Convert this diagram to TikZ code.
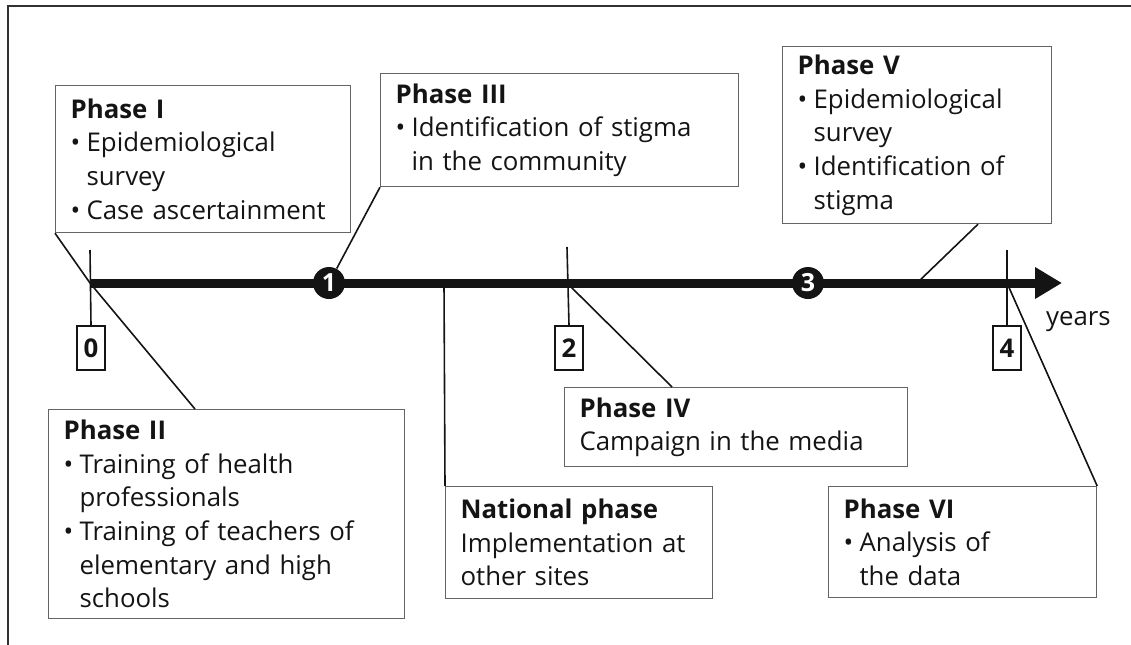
\documentclass[tikz,border=0pt]{standalone}
\usepackage{fontspec}
\usepackage{xcolor}
\setmainfont{Open Sans}
\usetikzlibrary{positioning,calc,arrows.meta}
\definecolor{ink}{RGB}{20, 20, 20}
\definecolor{edge}{RGB}{100, 100, 100}
\definecolor{frame}{RGB}{50, 50, 50}
\tikzstyle{phase} = [
    rectangle,
    anchor=north west,
    align=left,
    draw=edge,
    line width=0.6pt,
    inner xsep=7.5pt,
    inner ysep=0pt,
    text=ink,
    font=\fontsize{12.9}{16.8}\selectfont
]
\tikzstyle{yearbox} = [
    rectangle,
    anchor=north,
    draw=ink,
    line width=0.9pt,
    minimum width=14pt,
    minimum height=22pt,
    inner sep=0pt,
    text=ink,
    font=\bfseries\fontsize{12.9}{15}\selectfont
]
\tikzstyle{milestone} = [
    circle,
    fill=ink,
    minimum size=16pt,
    inner sep=0pt,
    text=white,
    font=\bfseries\fontsize{12.5}{14}\selectfont
]
\tikzstyle{link} = [
    draw=ink,
    line width=0.8pt
]
\newcommand{\bl}{\makebox[8pt][l]{\textbullet}}
\newcommand{\ind}{\hspace*{8pt}}

\begin{document}
\begin{tikzpicture}[x=0.5pt, y=-0.5pt]
    \useasboundingbox (0,0) rectangle (1131,644);
    \draw[frame, line width=1pt] (1140,6) -- (8,6) -- (8,660);

    \coordinate (k0) at (90,283);
    \coordinate (k2) at (567,283);
    \coordinate (k4) at (1007,283);
    \coordinate (tip) at (1062,283);
    \coordinate (nat) at (444,283);
    \coordinate (p5foot) at (917,283);

    \node[yearbox] (y0) at (91,325) {0};
    \node[yearbox] (y2) at (569,325) {2};
    \node[yearbox] (y4) at (1007,325) {4};
    \draw[link] ($(k0)+(0,-33)$) -- (y0.north);
    \draw[link] ($(k2)+(0,-36)$) -- (y2.north);
    \draw[link] ($(k4)+(0,-33)$) -- (y4.north);

    \draw[ink, line width=4.5pt, -{Triangle[width=15pt,length=13.5pt]}] (k0) -- (tip);
    \node[milestone] (m1) at (329,283) {1};
    \node[milestone] (m3) at (808,283) {3};
    \node[anchor=base west, text=ink, font=\fontsize{12.9}{15}\selectfont] (yrs) at (1039,325) {years};

    \node[phase, text width=132.5pt, minimum height=73.5pt] (p1) at (55,85)
        {\textbf{Phase I}\\\bl Epidemiological\\\ind survey\\\bl Case ascertainment};
    \node[phase, text width=164pt, minimum height=56.5pt] (p3) at (380,73)
        {\textbf{Phase III}\\\bl Identification of stigma\\\ind in the community};
    \node[phase, text width=119.5pt, minimum height=88.5pt] (p5) at (782,46)
        {\textbf{Phase V}\\\bl Epidemiological\\\ind survey\\\bl Identification of\\\ind stigma};
    \node[phase, text width=163pt, minimum height=104.5pt] (p2) at (48,409)
        {\textbf{Phase II}\\\bl Training of health\\\ind professionals\\\bl Training of teachers of\\\ind elementary and high\\\ind schools};
    \node[phase, text width=118.5pt, minimum height=56pt] (pn) at (445,486)
        {\textbf{National phase}\\Implementation at\\other sites};
    \node[phase, text width=156.5pt, minimum height=39.5pt] (p4) at (564,387)
        {\textbf{Phase IV}\\Campaign in the media};
    \node[phase, text width=119pt, minimum height=55.5pt] (p6) at (828,486)
        {\textbf{Phase VI}\\\bl Analysis of\\\ind the data};

    \draw[link] (p1.south west) -- (k0);
    \draw[link] (k0) -- ($(p2.north west)+(147,0)$);
    \draw[link] (p3.south west) -- (m1);
    \draw[link] (nat) -- (pn.north west);
    \draw[link] (k2) -- ($(p4.north west)+(108,0)$);
    \draw[link] ($(p5.south west)+(196,0)$) -- (p5foot);
    \draw[link] (k4) -- (p6.north east);
\end{tikzpicture}
\end{document}
